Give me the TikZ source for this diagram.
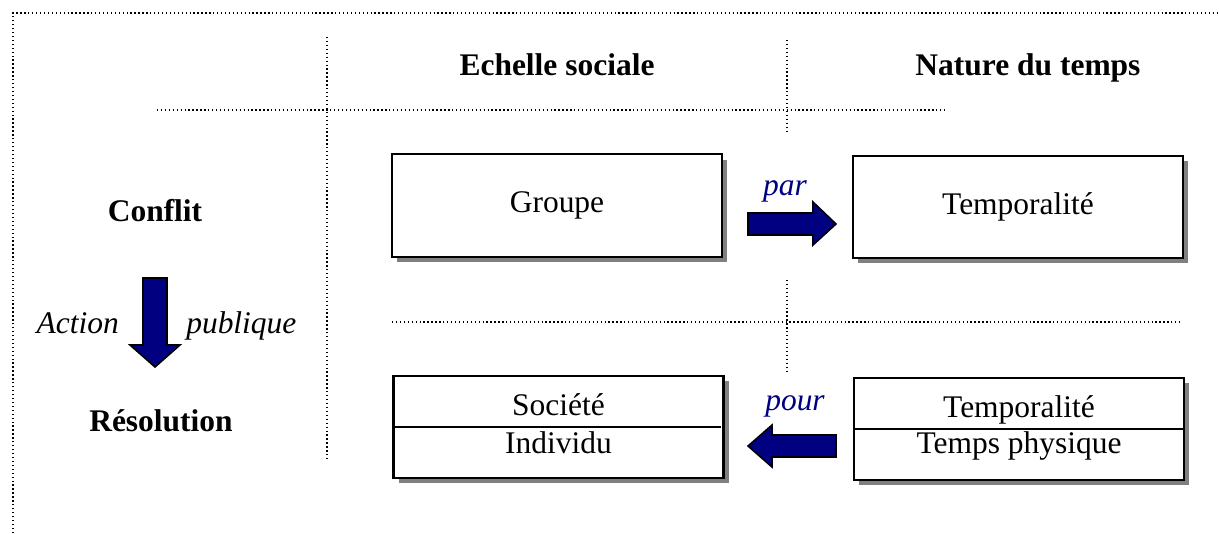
\documentclass[tikz,border=0pt]{standalone}
\usepackage{fontspec}
\setmainfont{Liberation Serif}
\usetikzlibrary{shadows}
\definecolor{navy}{rgb}{0,0,0.5}
\definecolor{shadowgray}{rgb}{0.5,0.5,0.5}

\begin{document}
\begin{tikzpicture}[x=0.0134cm, y=-0.0134cm,
    every node/.style={font=\fontsize{12}{14}\selectfont},
    sepline/.style={densely dotted, line width=0.5pt},
    cellbox/.style={draw, line width=0.8pt, fill=white, minimum width=4.42cm,
      minimum height=1.37cm, inner sep=0pt,
      drop shadow={shadow xshift=0.07cm, shadow yshift=-0.07cm, opacity=1, fill=shadowgray}},
    colhead/.style={font=\fontsize{12}{14}\selectfont\bfseries, anchor=base},
    verb/.style={font=\fontsize{12}{14}\selectfont\itshape, text=navy, anchor=base},
    blockarrow/.style={fill=navy, draw=black, line width=0.6pt}]
  \useasboundingbox (0,0) rectangle (1219,533);
  % dotted frame and grid
  \draw[sepline] (13,533) -- (13,13) -- (1219,13);
  \draw[sepline] (327,37) -- (327,460);
  \draw[sepline] (157,110) -- (946,110);
  \draw[sepline] (787,40) -- (787,133);
  \draw[sepline] (787,280) -- (787,373);
  \draw[sepline] (392,322) -- (1181,322);
  % headings
  \node[colhead] (echelle) at (557,75) {Echelle sociale};
  \node[colhead] (nature) at (1028,75) {Nature du temps};
  \node[colhead] (conflit) at (155,221) {Conflit};
  \node[colhead] (resol) at (161,431) {Résolution};
  % boxes
  \node[cellbox] (groupe) at (557,205.5) {Groupe};
  \node[cellbox] (tempA) at (1018,207) {Temporalité};
  \node[cellbox] (societe) at (558.5,427) {};
  \node[cellbox] (tempB) at (1019,429) {};
  \draw[line width=0.8pt] (societe.west) -- ([xshift=-0.05cm]societe.east);
  \draw[line width=0.8pt] (tempB.west) -- (tempB.east);
  \node[anchor=base] (soc) at (558.5,415) {Société};
  \node[anchor=base] (indiv) at (558.5,453) {Individu};
  \node[anchor=base] (tempC) at (1019,417) {Temporalité};
  \node[anchor=base] (phys) at (1019,453) {Temps physique};
  % block arrows
  \draw[blockarrow] (748,213) -- (813,213) -- (813,202) -- (836,224)
    -- (813,245) -- (813,235) -- (748,235) -- cycle;
  \draw[blockarrow] (836,435) -- (772,435) -- (772,425) -- (748,446)
    -- (772,467) -- (772,457) -- (836,457) -- cycle;
  \draw[blockarrow] (143,278) -- (167,278) -- (167,345) -- (180,345)
    -- (155,367) -- (130,345) -- (143,345) -- cycle;
  \node[verb] (par) at (785,195) {par};
  \node[verb] (pour) at (795,410) {pour};
  \node[anchor=base east, font=\fontsize{12}{14}\selectfont\itshape] (action) at (128,333) {Action};
  \node[anchor=base west, font=\fontsize{12}{14}\selectfont\itshape] (publique) at (177,333) {publique};
\end{tikzpicture}
\end{document}
